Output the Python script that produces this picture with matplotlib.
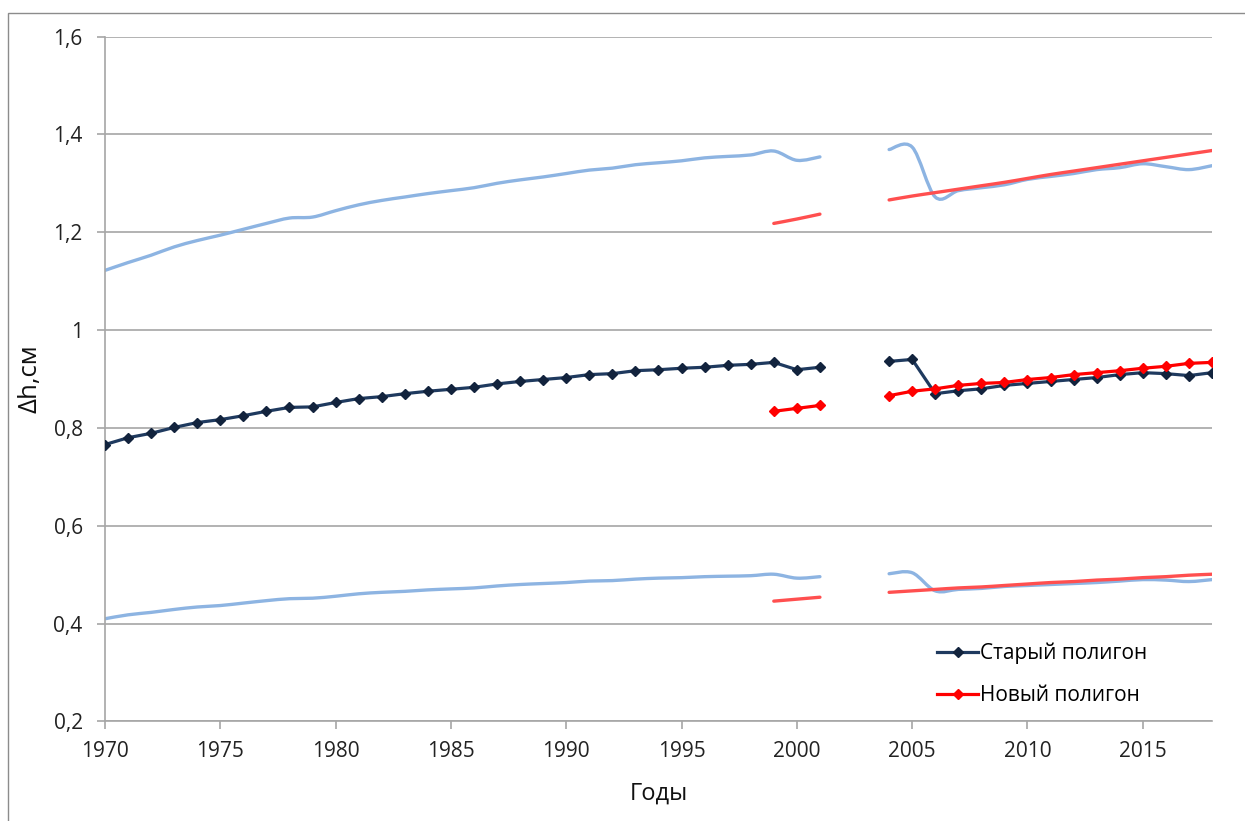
import numpy as np
import matplotlib
matplotlib.use("Agg")
from matplotlib import pyplot as plt
from matplotlib.path import Path
from matplotlib.patches import PathPatch, Rectangle

plt.rcParams['font.family'] = ['Open Sans', 'DejaVu Sans']

years = list(range(1970, 2019))
nan = np.nan

# старый полигон (с маркерами)
old_poly = [0.766, 0.780, 0.789, 0.801, 0.811, 0.817, 0.825, 0.834, 0.842, 0.843,
            0.852, 0.860, 0.864, 0.870, 0.875, 0.879, 0.883, 0.890, 0.895, 0.899,
            0.903, 0.909, 0.911, 0.917, 0.919, 0.922, 0.924, 0.928, 0.930, 0.934,
            0.919, 0.924, nan, nan, 0.936, 0.940, 0.870, 0.876, 0.880, 0.887,
            0.891, 0.895, 0.899, 0.903, 0.909, 0.913, 0.911, 0.907, 0.913]
# новый полигон (с маркерами)
new_poly = [nan] * 29 + [0.834, 0.840, 0.846, nan, nan,
                         0.866, 0.875, 0.880, 0.887, 0.891, 0.893, 0.899, 0.903,
                         0.909, 0.913, 0.917, 0.922, 0.926, 0.932, 0.934]

# верхняя и нижняя границы
old_upper = [1.122, 1.138, 1.153, 1.170, 1.183, 1.194, 1.206, 1.218, 1.229, 1.231,
             1.244, 1.256, 1.265, 1.272, 1.279, 1.285, 1.291, 1.300, 1.307, 1.313,
             1.320, 1.327, 1.331, 1.338, 1.342, 1.346, 1.352, 1.355, 1.358, 1.366,
             1.347, 1.354, nan, nan, 1.369, 1.374, 1.272, 1.285, 1.291, 1.297,
             1.308, 1.314, 1.320, 1.328, 1.332, 1.340, 1.334, 1.328, 1.336]
old_lower = [0.410, 0.418, 0.423, 0.429, 0.434, 0.437, 0.442, 0.447, 0.451, 0.452,
             0.456, 0.461, 0.464, 0.466, 0.469, 0.471, 0.473, 0.477, 0.480, 0.482,
             0.484, 0.487, 0.488, 0.491, 0.493, 0.494, 0.496, 0.497, 0.498, 0.501,
             0.493, 0.496, nan, nan, 0.502, 0.504, 0.467, 0.470, 0.472, 0.476,
             0.478, 0.480, 0.482, 0.484, 0.487, 0.490, 0.489, 0.486, 0.490]
new_upper = [nan] * 29 + [1.218, 1.227, 1.237, nan, nan,
                          1.266, 1.274, 1.281, 1.288, 1.295, 1.302, 1.310, 1.318,
                          1.325, 1.332, 1.339, 1.346, 1.353, 1.360, 1.367]
new_lower = [nan] * 29 + [0.446, 0.450, 0.454, nan, nan,
                          0.464, 0.467, 0.470, 0.473, 0.475, 0.478, 0.481, 0.484,
                          0.486, 0.489, 0.491, 0.494, 0.496, 0.499, 0.501]

yticks = [0.2, 0.4, 0.6, 0.8, 1.0, 1.2, 1.4, 1.6]
ytick_labels = ["0,2", "0,4", "0,6", "0,8", "1", "1,2", "1,4", "1,6"]
xticks = list(range(1970, 2019, 5))


def smooth_path(x, y):
    """Excel-style smoothed line: cubic Bezier pieces through the points,
    broken where the series has gaps."""
    x = np.asarray(x, float)
    y = np.asarray(y, float)
    verts, codes = [], []
    ok = ~np.isnan(y)
    idx = np.flatnonzero(ok)
    runs = np.split(idx, np.flatnonzero(np.diff(idx) > 1) + 1)
    for r in runs:
        if len(r) < 2:
            continue
        px, py = x[r], y[r]
        n = len(px)
        verts.append((px[0], py[0]))
        codes.append(Path.MOVETO)
        for i in range(n - 1):
            i0 = max(i - 1, 0)
            i3 = min(i + 2, n - 1)
            c1 = (px[i] + (px[i + 1] - px[i0]) / 6, py[i] + (py[i + 1] - py[i0]) / 6)
            c2 = (px[i + 1] - (px[i3] - px[i]) / 6, py[i + 1] - (py[i3] - py[i]) / 6)
            verts += [c1, c2, (px[i + 1], py[i + 1])]
            codes += [Path.CURVE4] * 3
    return Path(verts, codes)


fig = plt.figure(figsize=(12.45, 8.21), dpi=100)
ax = fig.add_axes([0.0843, 0.1212, 0.8892, 0.8343])

light_blue = '#8DB4E2'
light_red = '#FF4F4F'
dark = '#1F3A5F'

for series, col in [(old_upper, light_blue), (old_lower, light_blue),
                    (new_upper, light_red), (new_lower, light_red)]:
    ax.add_patch(PathPatch(smooth_path(years, series), facecolor='none',
                           edgecolor=col, lw=2.4, capstyle='round', zorder=2))

ax.plot(years, old_poly, color=dark, lw=2.3, marker='D', ms=5.5,
        mfc='#12233D', mec='#12233D', label='Старый полигон', zorder=3)
ax.plot(years, new_poly, color='#FF0000', lw=2.3, marker='D', ms=5.5,
        mfc='#FF0000', mec='#FF0000', label='Новый полигон', zorder=4)

ax.set_xlim(1970, 2018)
ax.set_ylim(0.2, 1.6)
ax.set_xticks(xticks)
ax.set_yticks(yticks)
ax.set_yticklabels(ytick_labels)
ax.grid(axis='y', color='#A6A6A6', lw=1.2)
ax.set_axisbelow(True)
for s in ['top', 'right']:
    ax.spines[s].set_visible(False)
for s in ['left', 'bottom']:
    ax.spines[s].set_color('#A6A6A6')
    ax.spines[s].set_linewidth(1.2)
ax.tick_params(axis='both', colors='#A6A6A6', length=6, width=1.2,
               labelcolor='#222222', labelsize=15)
ax.tick_params(axis='x', pad=8)
ax.tick_params(axis='y', pad=10)

ax.set_xlabel('Годы', fontsize=17, color='#111111', labelpad=14)
ax.set_ylabel('Δh,см', fontsize=18.5, color='#111111', labelpad=8)

ax.legend(loc='upper left', bbox_to_anchor=(918 / 1245, 1 - 624 / 821),
          bbox_transform=fig.transFigure, frameon=False, fontsize=15,
          handlelength=2.0, handletextpad=0.1, labelspacing=1.0)

# рамка области диаграммы
fig.patches.append(Rectangle((8 / 1245, -0.1), 1.2, 1.1 - 13 / 821,
                             transform=fig.transFigure, fill=False,
                             edgecolor='#8C8C8C', lw=1.0))

fig.savefig('out.png', dpi=100)
